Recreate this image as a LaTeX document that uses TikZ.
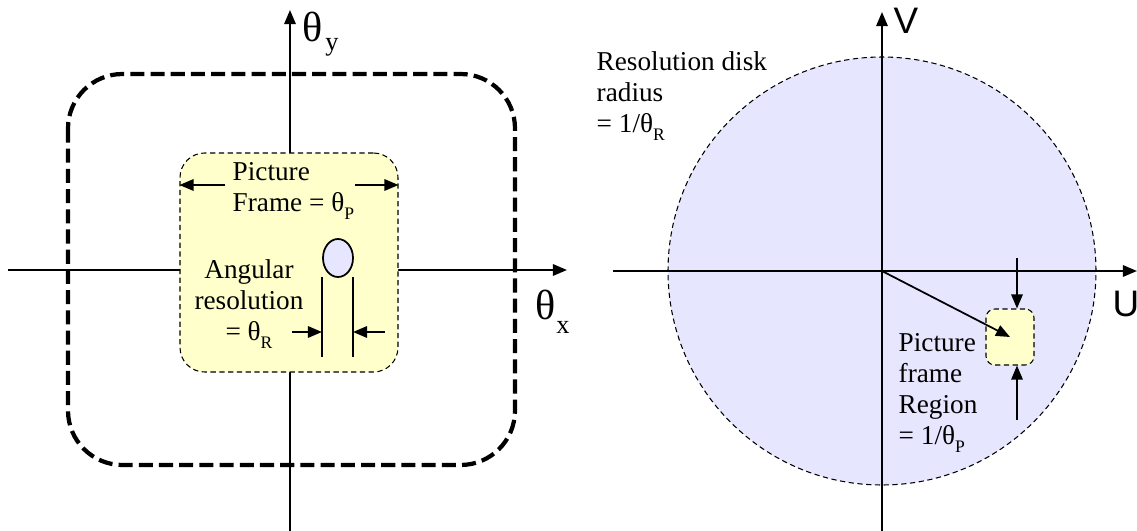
\documentclass[tikz,border=0pt]{standalone}
\usepackage{fontspec}
\setmainfont{Liberation Serif}
\newfontfamily\axisfont{Liberation Sans}
\usetikzlibrary{arrows.meta,shapes.geometric}
\definecolor{frameyellow}{RGB}{255,255,204}
\definecolor{disklilac}{RGB}{230,230,255}
\newcommand{\lowsub}[1]{\raisebox{-0.65ex}{\fontsize{10}{10}\selectfont #1}}

\begin{document}
\begin{tikzpicture}[x=0.02cm,y=-0.02cm,>={Triangle[length=8pt,width=6.5pt]},line width=1pt,
  font=\fontsize{15.5}{17.5}\selectfont]
\useasboundingbox (0,0) rectangle (1137,531);
% left: sky plane
\coordinate (xl) at (8,270);
\coordinate (xr) at (567,270);
\coordinate (yb) at (290,531);
\coordinate (yt) at (290,10);
\draw[->] (xl) -- (xr);
\draw[->] (yb) -- (yt);
\draw[line width=2.4pt,dash pattern=on 8pt off 3.5pt,rounded corners=31pt] (68,74) rectangle (515,465);
\node[draw,fill=frameyellow,dash pattern=on 3pt off 2pt,line width=0.6pt,rounded corners=14pt,
  minimum width=218*0.02cm,minimum height=219*0.02cm,inner sep=0pt] (frame) at (289,262.5) {};
\node[font=\fontsize{24}{24}\selectfont,inner sep=0pt] (thy) at (313,27) {θ};
\node[font=\fontsize{15}{15}\selectfont,inner sep=0pt] at (332,47) {y};
\node[font=\fontsize{24}{24}\selectfont,inner sep=0pt] (thx) at (546,305) {θ};
\node[font=\fontsize{15}{15}\selectfont,inner sep=0pt] at (563,327) {x};
\node[align=left,anchor=west] (ptext) at (226,191) {Picture\\Frame = θ\lowsub{P}};
\coordinate (pl0) at (225,185);
\coordinate (pr0) at (355,185);
\draw[->] (pl0) -- (frame.west |- pl0);
\draw[->] (pr0) -- (frame.east |- pr0);
\node[draw,fill=disklilac,ellipse,minimum width=30*0.02cm,minimum height=38*0.02cm,inner sep=0pt] (res) at (338,258) {};
\coordinate (rl0) at (322,277);
\coordinate (rl1) at (322,357);
\coordinate (rr0) at (353,277);
\coordinate (rr1) at (353,357);
\draw (rl0) -- (rl1);
\draw (rr0) -- (rr1);
\coordinate (ra) at (292,332);
\coordinate (rb) at (385,332);
\draw[->] (ra) -- (rl0 |- ra);
\draw[->] (rb) -- (rr0 |- rb);
\node[align=center] (atext) at (249,304) {Angular\\resolution\\= θ\lowsub{R}};
% right: uv plane
\node[draw,fill=disklilac,circle,dash pattern=on 3pt off 2pt,line width=0.6pt,minimum size=428*0.02cm,inner sep=0pt] (disk) at (882,271) {};
\coordinate (o) at (882,271);
\coordinate (ul) at (613,271);
\coordinate (ur) at (1137,271);
\coordinate (vb) at (882,531);
\coordinate (vt) at (882,12);
\draw[->] (ul) -- (ur);
\draw[->] (vb) -- (vt);
\node[font=\axisfont\fontsize{21}{21}\selectfont,inner sep=0pt] (vlab) at (906,21) {V};
\node[font=\axisfont\fontsize{21}{21}\selectfont,inner sep=0pt] (ulab) at (1126,304) {U};
\node[draw,fill=frameyellow,dash pattern=on 3pt off 2pt,line width=0.6pt,rounded corners=5pt,
  minimum width=48*0.02cm,minimum height=56*0.02cm,inner sep=0pt] (region) at (1010,337) {};
\draw[->] (o) -- (region.center);
\coordinate (ra0) at (1017,258);
\coordinate (rb0) at (1017,420);
\draw[->] (ra0) -- (ra0 |- region.north);
\draw[->] (rb0) -- (rb0 |- region.south);
\node[align=left,anchor=north west] (rtext) at (892,327) {Picture\\frame\\Region\\= 1/θ\lowsub{P}};
\node[align=left,anchor=north west] (dtext) at (590,45) {Resolution disk\\radius\\= 1/θ\lowsub{R}};
\end{tikzpicture}
\end{document}
